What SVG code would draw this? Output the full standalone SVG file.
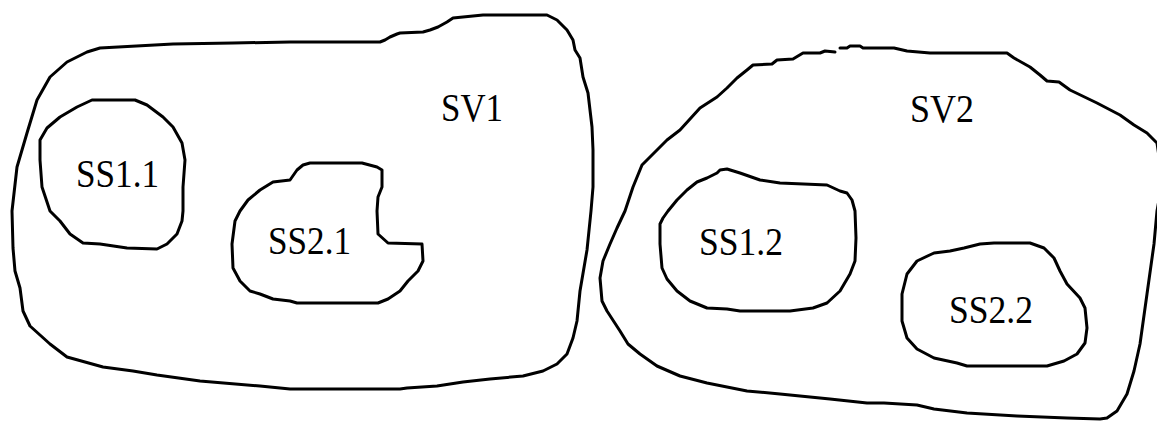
<svg xmlns="http://www.w3.org/2000/svg" width="1157" height="422" viewBox="0 0 1157 422">
  <style>
    .region { fill: none; stroke: #000; stroke-width: 3; stroke-linejoin: round; stroke-linecap: round; }
    .label { font-family: "Liberation Serif", "Times New Roman", serif; font-size: 40px; fill: #000; }
  </style>
  <rect width="1157" height="422" fill="#fff"/>

  <!-- Supervolume 1 -->
  <g id="SV1">
    <path class="region" d="M12,211 L17,167 L27,133 L37,100 L50,77 L67,62 L87,52 L100,48 L173,44 L233,43 L290,42 L380,42 L385,40 L390,37 L397,34 L400,33 L423,32 L430,30 L438,27 L447,22 L453,18 L483,15 L547,15 L557,20 L567,30 L573,40 L575,50 L580,58 L583,77 L588,93 L592,127 L593,150 L593,187 L591,211 L587,250 L580,291 L577,321 L573,338 L567,354 L557,364 L543,371 L523,376 L490,379 L463,382 L437,386 L407,388 L400,389 L290,389 L260,386 L200,381 L157,375 L133,371 L103,367 L67,357 L50,344 L30,326 L23,311 L20,288 L15,271 L13,248 Z"/>
    <text class="label" x="441" y="121" textLength="62" lengthAdjust="spacingAndGlyphs">SV1</text>
  </g>

  <g id="SS1.1">
    <path class="region" d="M92,100 L135,100 L147,105 L163,117 L173,127 L182,143 L185,160 L183,187 L183,211 L182,221 L177,234 L167,244 L157,249 L127,248 L100,244 L83,243 L70,234 L60,221 L50,211 L42,187 L40,160 L40,140 L47,128 L60,117 L77,107 Z"/>
    <text class="label" x="76" y="187" textLength="83" lengthAdjust="spacingAndGlyphs">SS1.1</text>
  </g>

  <g id="SS2.1">
    <path class="region" d="M310,163 L362,163 L377,167 L382,170 L382,187 L378,197 L377,211 L378,234 L388,243 L422,244 L423,261 L418,271 L408,281 L400,291 L388,299 L378,303 L297,303 L290,301 L273,299 L260,294 L250,291 L240,281 L233,268 L232,244 L235,221 L240,211 L248,200 L260,190 L273,182 L290,180 L297,170 L303,165 Z"/>
    <text class="label" x="268" y="254" textLength="83" lengthAdjust="spacingAndGlyphs">SS2.1</text>
  </g>

  <!-- Supervolume 2 -->
  <g id="SV2">
    <path class="region" d="M625,211 L633,187 L642,165 L647,160 L667,140 L680,130 L700,108 L717,97 L727,88 L737,78 L747,70 L753,65 L772,64 L777,60 L793,59 L803,53 L820,53 L825,51 L835,52 M840,48 L847,48 L850,46 L860,46 L863,48 L894,48 L907,51 L930,53 L1007,53 L1014,58 L1030,67 L1040,75 L1047,81 L1059,82 L1070,90 L1097,103 L1120,115 L1134,125 L1147,133 L1157,143 L1161,170 L1159,200 L1157,211 L1154,244 L1147,294 L1140,344 L1134,371 L1127,394 L1117,411 L1107,418 L1100,419 L1067,418 L1017,416 L967,413 L934,409 L917,405 L884,403 L867,403 L830,399 L780,394 L747,391 L707,383 L680,376 L657,366 L640,354 L628,344 L620,331 L607,311 L602,301 L600,278 L603,261 L610,244 L617,228 L625,211"/>
    <text class="label" x="910" y="122" textLength="64" lengthAdjust="spacingAndGlyphs">SV2</text>
  </g>

  <g id="SS1.2">
    <path class="region" d="M720,170 L727,169 L740,173 L760,180 L780,183 L827,185 L840,191 L847,193 L852,200 L855,211 L856,238 L855,261 L850,274 L840,291 L827,303 L813,308 L790,311 L740,311 L727,309 L707,308 L690,301 L677,291 L667,279 L662,268 L660,244 L660,224 L663,218 L668,211 L677,200 L687,190 L697,182 L707,178 L717,173 Z"/>
    <text class="label" x="699" y="255" textLength="84" lengthAdjust="spacingAndGlyphs">SS1.2</text>
  </g>

  <g id="SS2.2">
    <path class="region" d="M994,243 L1030,243 L1044,248 L1054,258 L1060,271 L1067,284 L1080,298 L1085,308 L1087,328 L1085,343 L1077,354 L1064,361 L1047,366 L967,366 L957,363 L934,358 L917,349 L907,338 L902,321 L902,294 L907,274 L917,261 L934,253 L950,251 L964,248 L980,244 Z"/>
    <text class="label" x="949" y="323" textLength="84" lengthAdjust="spacingAndGlyphs">SS2.2</text>
  </g>

  <!-- no connectors in this diagram -->
  <g id="connectors"/>
</svg>
